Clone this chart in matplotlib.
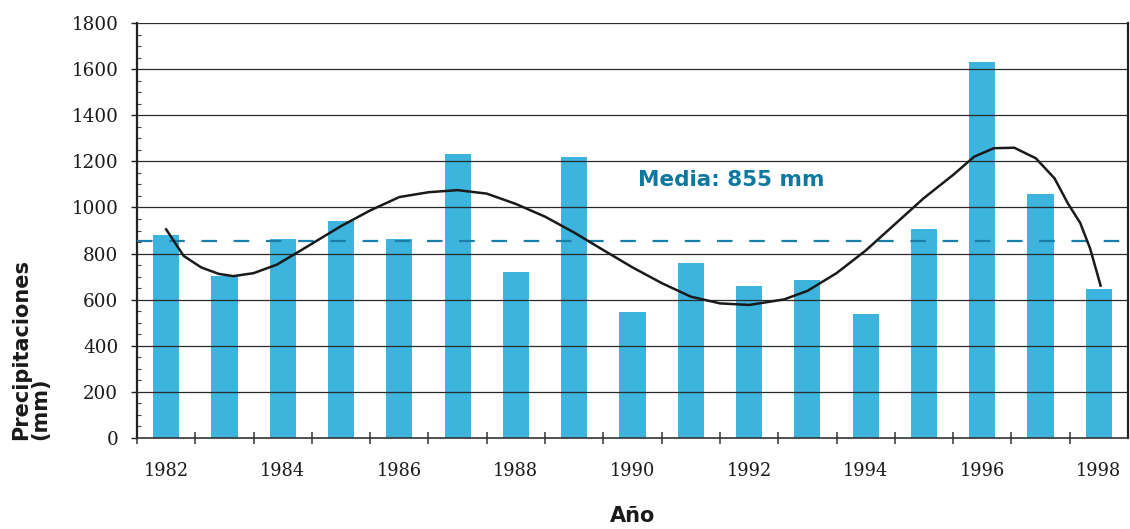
import matplotlib
matplotlib.use("Agg")
import matplotlib.pyplot as plt
from matplotlib.ticker import MultipleLocator, FixedLocator, NullFormatter

# ---- data ----
years = [1982, 1983, 1984, 1985, 1986, 1987, 1988, 1989, 1990,
         1991, 1992, 1993, 1994, 1995, 1996, 1997, 1998]
precip = [880, 702, 863, 943, 863, 1232, 718, 1219, 545,
          758, 658, 684, 536, 906, 1629, 1058, 645]

curve_years = [1982.0, 1982.3, 1982.6, 1982.9, 1983.15, 1983.5, 1983.9, 1984.3,
               1984.6, 1985.0, 1985.5, 1986.0, 1986.5, 1987.0, 1987.5, 1988.0,
               1988.5, 1989.0, 1989.5, 1990.0, 1990.5, 1991.0, 1991.5, 1992.0,
               1992.6, 1993.0, 1993.5, 1994.0, 1994.5, 1995.0, 1995.5, 1995.86,
               1996.2, 1996.55, 1996.92, 1997.24, 1997.47, 1997.68, 1997.85, 1998.03]
curve_values = [905, 790, 740, 712, 702, 715, 752, 812,
                858, 919, 987, 1045, 1066, 1075, 1060, 1015,
                960, 891, 815, 740, 672, 613, 584, 577,
                601, 638, 715, 813, 927, 1041, 1141, 1220,
                1257, 1259, 1213, 1126, 1017, 933, 822, 661]

mean_value = 855
mean_label = "Media: 855 mm"
year_labels = [1982, 1984, 1986, 1988, 1990, 1992, 1994, 1996, 1998]

# ---- style ----
bar_color = "#3cb4de"
mean_color = "#1a7fa8"
text_color = "#0f78a0"
grid_color = "#2a2a2a"

fig = plt.figure(figsize=(11.3, 5.29), dpi=100)
ax = fig.add_axes([137/1130, (529-438)/529, (1128-137)/1130, (438-23)/529])

ax.set_xlim(1981.5, 1998.5)
ax.set_ylim(0, 1800)

# gridlines (drawn above bars)
for v in range(200, 1801, 200):
    ax.axhline(v, color=grid_color, lw=0.9, zorder=3)

ax.bar(years, precip, width=0.45, color=bar_color, zorder=2, linewidth=0)

ax.axhline(mean_value, color=mean_color, lw=1.6, linestyle=(0, (7, 7.5)), zorder=4)

ax.plot(curve_years, curve_values, color="#1a1a1a", lw=1.8, zorder=5,
        solid_joinstyle="round")

ax.text(1990.1, 1120, mean_label, color=text_color, fontsize=15.5,
        fontweight="bold", family="DejaVu Sans", ha="left", va="center", zorder=6)

# spines
ax.spines["top"].set_visible(False)
ax.spines["left"].set_linewidth(1.6)
ax.spines["left"].set_color("#222222")
ax.spines["bottom"].set_linewidth(1.2)
ax.spines["bottom"].set_color("#333333")
ax.spines["right"].set_linewidth(1.6)
ax.spines["right"].set_color("#222222")

# y ticks
ax.yaxis.set_major_locator(MultipleLocator(200))
ax.yaxis.set_minor_locator(MultipleLocator(50))
ax.tick_params(axis="y", which="major", direction="out", length=4.5, width=1,
               color="#222222", pad=9, labelsize=13.2, labelcolor="#1a1a1a")
ax.tick_params(axis="y", which="minor", direction="in", length=3, width=0.8,
               color="#444444")
for lab in ax.get_yticklabels():
    lab.set_family("DejaVu Serif")

# x ticks: major at half years (no labels), minor at even years (labels only)
half_years = [y + 0.5 for y in range(1981, 1998)]
ax.xaxis.set_major_locator(FixedLocator(half_years))
ax.xaxis.set_major_formatter(NullFormatter())
ax.set_xticks(year_labels, [str(y) for y in year_labels], minor=True)
ax.tick_params(axis="x", which="major", direction="inout", length=8.5, width=1.1,
               color="#333333")
ax.tick_params(axis="x", which="minor", length=0, pad=17, labelsize=12.8,
               labelcolor="#1a1a1a")
for lab in ax.get_xticklabels(minor=True):
    lab.set_family("DejaVu Serif")

ax.set_xlabel("Año", fontsize=15, fontweight="bold", family="DejaVu Sans",
              color="#1a1a1a", labelpad=19)

fig.text(31/1130, (529-440)/529, "Precipitaciones\n(mm)", rotation=90,
         ha="center", va="bottom", multialignment="left",
         fontsize=15, fontweight="bold", family="DejaVu Sans", color="#1a1a1a",
         linespacing=0.95)

fig.savefig("out.png", dpi=100)
